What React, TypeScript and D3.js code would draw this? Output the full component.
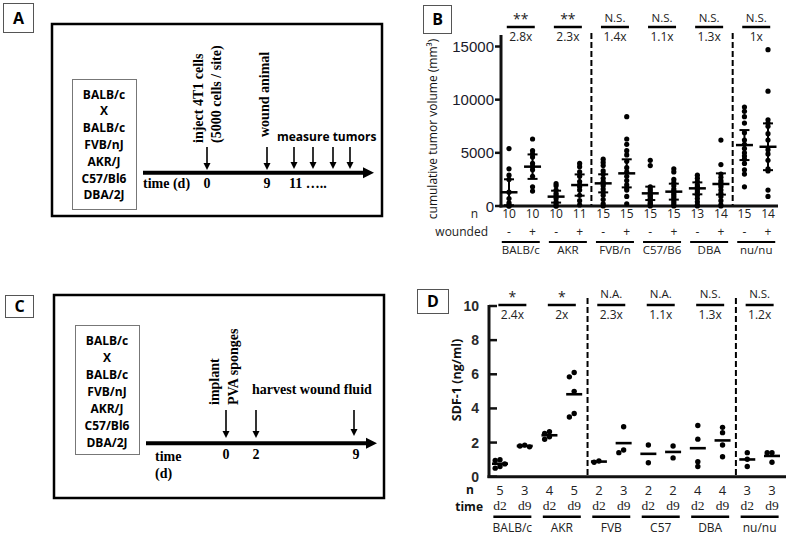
import React from 'react';
import * as d3 from 'd3';

const SANS = "'Open Sans', 'Noto Sans', sans-serif";
const SERIF = "'Liberation Serif', 'DejaVu Serif', serif";
const ARIAL = "'Liberation Sans', Arial, sans-serif";

// ---------- diagrams (A, C) ----------
const strainList = ['BALB/c', 'X', 'BALB/c', 'FVB/nJ', 'AKR/J', 'C57/Bl6', 'DBA/2J'];
const aTimeLabels = ['0', '9', '11 …..'];
const cTimeLabels = ['0', '2', '9'];

// ---------- panel B ----------
const bGroups = ['BALB/c', 'AKR', 'FVB/n', 'C57/B6', 'DBA', 'nu/nu'];
const bN = [10, 10, 10, 11, 15, 15, 15, 15, 13, 14, 15, 14];
const bWounded = ['-', '+', '-', '+', '-', '+', '-', '+', '-', '+', '-', '+'];
const bSig = ['**', '**', 'N.S.', 'N.S.', 'N.S.', 'N.S.'];
const bFold = ['2.8x', '2.3x', '1.4x', '1.1x', '1.3x', '1x'];
const bYTicks = [0, 5000, 10000, 15000];
const bValues: number[][] = [
  [5400, 3500, 2900, 2500, 1300, 700, 300, 100, 0, 0],
  [6300, 5200, 4900, 4600, 4000, 3700, 3400, 2800, 1800, 1400],
  [2100, 1900, 1500, 1200, 1000, 700, 400, 200, 0, 0],
  [4000, 3700, 3200, 2800, 2300, 2000, 1800, 1500, 1000, 500, 100],
  [4400, 4100, 3800, 3300, 3000, 2600, 2300, 2100, 1900, 1600, 1300, 1000, 600, 200, 0],
  [8400, 6300, 5800, 5200, 4800, 4200, 3600, 3200, 2800, 2400, 2000, 1700, 1500, 900, 200],
  [4300, 3800, 1800, 1600, 1400, 1200, 1000, 900, 700, 600, 500, 300, 200, 100, 0],
  [3500, 3200, 2500, 2200, 1900, 1600, 1400, 1300, 1100, 900, 700, 500, 300, 100, 0],
  [2900, 2600, 2300, 2000, 1800, 1700, 1500, 1300, 1000, 700, 400, 100, 0],
  [6200, 3900, 3000, 2700, 2400, 2200, 2000, 1800, 1500, 1200, 900, 500, 100, 0],
  [9300, 8900, 8400, 7800, 6900, 6200, 5800, 5400, 5000, 4700, 4400, 4000, 3400, 3000, 1800],
  [14700, 10800, 8100, 7800, 7500, 6800, 6200, 5300, 4900, 4300, 3500, 3300, 1500, 900],
];
const bMeans = [1290, 3700, 880, 1970, 2130, 3070, 1190, 1350, 1660, 2070, 5730, 5570];
const bErrors = [1220, 1150, 560, 1000, 850, 1320, 630, 750, 560, 1000, 1410, 2200];

// ---------- panel D ----------
const dGroups = ['BALB/c', 'AKR', 'FVB', 'C57', 'DBA', 'nu/nu'];
const dN = [5, 3, 4, 5, 2, 3, 2, 2, 4, 4, 3, 3];
const dTime = ['d2', 'd9', 'd2', 'd9', 'd2', 'd9', 'd2', 'd9', 'd2', 'd9', 'd2', 'd9'];
const dSig = ['*', '*', 'N.A.', 'N.A.', 'N.S.', 'N.S.'];
const dFold = ['2.4x', '2x', '2.3x', '1.1x', '1.3x', '1.2x'];
const dYTicks = [0, 2, 4, 6, 8, 10];
const dValues: number[][] = [
  [1.0, 0.95, 0.75, 0.6, 0.5],
  [1.85, 1.8, 1.75],
  [2.64, 2.54, 2.34, 2.19],
  [6.1, 5.85, 5.0, 3.7, 3.5],
  [0.92, 0.85],
  [2.93, 1.56, 1.41],
  [1.86, 0.82],
  [1.8, 1.1],
  [3.0, 2.2, 0.88, 0.6],
  [2.89, 2.58, 1.86, 1.17],
  [1.41, 1.02, 0.6],
  [1.4, 1.4, 0.85],
];

function beeswarm(vals: number[], y: (v: number) => number, r: number, step: number) {
  const placed: { x: number; y: number }[] = [];
  const offsets = [0, -1, 1, -2, 2, -3, 3];
  vals.forEach((v) => {
    const py = y(v);
    for (const o of offsets) {
      const px = o * step;
      if (placed.every((p) => Math.hypot(p.x - px, p.y - py) >= 2 * r * 0.85)) {
        placed.push({ x: px, y: py });
        return;
      }
    }
    placed.push({ x: 0, y: py });
  });
  return placed;
}

function LetterBox({ x, y, w, h, label }: { x: number; y: number; w: number; h: number; label: string }) {
  return (
    <g>
      <rect x={x + 0.5} y={y + 0.5} width={w} height={h} fill="#fff" stroke="#555" strokeWidth={1} />
      <text x={x + w / 2 + 0.5} y={y + h / 2 + 6} textAnchor="middle" fontFamily={SANS} fontWeight="bold" fontSize={16}>
        {label}
      </text>
    </g>
  );
}

function DownArrow({ x, y1, y2 }: { x: number; y1: number; y2: number }) {
  return (
    <g>
      <line x1={x} x2={x} y1={y1} y2={y2 - 5} stroke="#000" strokeWidth={1.6} />
      <path d={`M${x - 3.5},${y2 - 7} L${x + 3.5},${y2 - 7} L${x},${y2} Z`} fill="#000" />
    </g>
  );
}

function TimeArrow({ x1, x2, y }: { x1: number; x2: number; y: number }) {
  return (
    <g>
      <line x1={x1} x2={x2 - 8} y1={y} y2={y} stroke="#000" strokeWidth={4} />
      <path d={`M${x2 - 11},${y - 5.5} L${x2},${y} L${x2 - 11},${y + 5.5} Z`} fill="#000" />
    </g>
  );
}

function StrainBox({ x, y, w, h, y0, step }: { x: number; y: number; w: number; h: number; y0: number; step: number }) {
  return (
    <g>
      <rect x={x + 0.5} y={y + 0.5} width={w} height={h} fill="none" stroke="#777" strokeWidth={1} />
      {strainList.map((s, i) => (
        <text key={i} x={x + w / 2} y={y0 + i * step + 4.5} textAnchor="middle" fontFamily={SANS} fontWeight="bold" fontSize={12}>
          {s}
        </text>
      ))}
    </g>
  );
}

function PanelA() {
  const tx = [207, 267, 289];
  return (
    <g>
      <LetterBox x={3} y={3} w={30} h={29} label="A" />
      <rect x={52} y={24} width={330} height={192} fill="none" stroke="#000" strokeWidth={2.5} />
      <StrainBox x={72} y={79} w={64} h={130} y0={94} step={16.8} />
      <TimeArrow x1={143} x2={374} y={172.7} />
      <text x={143} y={188} fontFamily={SERIF} fontWeight="bold" fontSize={14}>time (d)</text>
      {aTimeLabels.map((t, i) => (
        <text key={i} x={tx[i]} y={188} textAnchor={i < 2 ? 'middle' : 'start'} fontFamily={SERIF} fontWeight="bold" fontSize={14}>
          {t}
        </text>
      ))}
      <DownArrow x={207} y1={147} y2={170} />
      <DownArrow x={267} y1={147} y2={170} />
      {[294, 313, 333, 350].map((x) => (
        <DownArrow key={x} x={x} y1={147} y2={169} />
      ))}
      <text transform="translate(203,143) rotate(-90)" fontFamily={SERIF} fontWeight="bold" fontSize={14}>inject 4T1 cells</text>
      <text transform="translate(221,143) rotate(-90)" fontFamily={SERIF} fontWeight="bold" fontSize={14}>(5000 cells / site)</text>
      <text transform="translate(269,137) rotate(-90)" fontFamily={SERIF} fontWeight="bold" fontSize={14}>wound animal</text>
      <text x={277} y={141} fontFamily={SANS} fontWeight="bold" fontSize={12}>measure tumors</text>
    </g>
  );
}

function PanelC() {
  const tx = [226, 256, 356];
  return (
    <g>
      <LetterBox x={5} y={295} w={28} h={22} label="C" />
      <rect x={54} y={295} width={330} height={203} fill="none" stroke="#000" strokeWidth={2.5} />
      <StrainBox x={75} y={325} w={64} h={129} y0={340} step={17} />
      <TimeArrow x1={146} x2={377} y={443.3} />
      <text x={155} y={461} fontFamily={SERIF} fontWeight="bold" fontSize={14}>time</text>
      <text x={155} y={478} fontFamily={SERIF} fontWeight="bold" fontSize={14}>(d)</text>
      {cTimeLabels.map((t, i) => (
        <text key={i} x={tx[i]} y={459} textAnchor="middle" fontFamily={SERIF} fontWeight="bold" fontSize={14}>
          {t}
        </text>
      ))}
      <DownArrow x={226} y1={410} y2={438} />
      <DownArrow x={256} y1={410} y2={438} />
      <DownArrow x={354} y1={410} y2={436} />
      <text transform="translate(219,405) rotate(-90)" fontFamily={SERIF} fontWeight="bold" fontSize={14}>implant</text>
      <text transform="translate(238,405) rotate(-90)" fontFamily={SERIF} fontWeight="bold" fontSize={14}>PVA sponges</text>
      <text x={252} y={394} fontFamily={SERIF} fontWeight="bold" fontSize={14}>harvest wound fluid</text>
    </g>
  );
}

function PanelB() {
  const cols = d3.range(bN.length);
  const x = d3.scalePoint<number>().domain(cols).range([509, 768]);
  const y = d3.scaleLinear().domain([0, 15000]).range([206, 46.5]);
  const pairC = (g: number) => ((x(2 * g) as number) + (x(2 * g + 1) as number)) / 2;
  const divs = [3.5, 9.5].map((k) => ((x(Math.floor(k)) as number) + (x(Math.ceil(k)) as number)) / 2);
  return (
    <g>
      <LetterBox x={423} y={5} w={28} h={28} label="B" />
      {bGroups.map((g, i) => {
        const c = pairC(i);
        const star = bSig[i].includes('*');
        return (
          <g key={g}>
            <text x={c} y={star ? 24 : 22} textAnchor="middle" fontFamily={SANS} fontSize={star ? 14 : 11.5} fill="#222">
              {bSig[i]}
            </text>
            <line x1={c - 14} x2={c + 14} y1={27} y2={27} stroke="#000" strokeWidth={2.5} />
            <text x={c} y={41} textAnchor="middle" fontFamily={SANS} fontSize={12} fill="#222">
              {bFold[i]}
            </text>
          </g>
        );
      })}
      {divs.map((dx, i) => (
        <line key={i} x1={dx} x2={dx} y1={33} y2={206} stroke="#000" strokeWidth={2} strokeDasharray="6,3" />
      ))}
      <line x1={501} x2={501} y1={35} y2={207.5} stroke="#111" strokeWidth={3} />
      <line x1={499.5} x2={778} y1={206} y2={206} stroke="#111" strokeWidth={3} />
      {bYTicks.map((t) => (
        <g key={t}>
          <line x1={495} x2={501} y1={y(t)} y2={y(t)} stroke="#111" strokeWidth={2.5} />
          <text x={494} y={y(t) + 5.5} textAnchor="end" fontFamily={ARIAL} fontSize={15} fill="#1a1a2a">
            {t}
          </text>
        </g>
      ))}
      <text transform="translate(437,129) rotate(-90)" textAnchor="middle" fontFamily={SANS} fontSize={12} fill="#111">
        cumulative tumor volume (mm³)
      </text>
      {cols.map((c) => {
        const cx = x(c) as number;
        const m = bMeans[c];
        const e = bErrors[c];
        return (
          <g key={c}>
            {bValues[c].map((v, j) => (
              <circle key={j} cx={cx} cy={y(v)} r={2.6} fill="#000" />
            ))}
            <line x1={cx} x2={cx} y1={y(m - e)} y2={y(m + e)} stroke="#000" strokeWidth={2} />
            <line x1={cx - 5} x2={cx + 5} y1={y(m - e)} y2={y(m - e)} stroke="#000" strokeWidth={2} />
            <line x1={cx - 5} x2={cx + 5} y1={y(m + e)} y2={y(m + e)} stroke="#000" strokeWidth={2} />
            <line x1={cx - 8.5} x2={cx + 8.5} y1={y(m)} y2={y(m)} stroke="#000" strokeWidth={2.5} />
          </g>
        );
      })}
      <text x={478} y={218} textAnchor="end" fontFamily={SANS} fontSize={12} fill="#222">n</text>
      <text x={488} y={236} textAnchor="end" fontFamily={SANS} fontSize={12} fill="#222">wounded</text>
      {cols.map((c) => (
        <g key={c}>
          <text x={x(c)} y={218} textAnchor="middle" fontFamily={SANS} fontSize={12} fill="#222">{bN[c]}</text>
          <text x={x(c)} y={236} textAnchor="middle" fontFamily={SANS} fontSize={12} fill="#222">{bWounded[c]}</text>
        </g>
      ))}
      {bGroups.map((g, i) => {
        const c = pairC(i);
        return (
          <g key={g}>
            <line x1={c - 19} x2={c + 19} y1={242} y2={242} stroke="#000" strokeWidth={2} />
            <text x={c} y={254} textAnchor="middle" fontFamily={SANS} fontSize={11.5} fill="#222">{g}</text>
          </g>
        );
      })}
    </g>
  );
}

function PanelD() {
  const cols = d3.range(dN.length);
  const x = d3.scalePoint<number>().domain(cols).range([500, 772]);
  const y = d3.scaleLinear().domain([0, 10]).range([476.7, 306]);
  const pairC = (g: number) => ((x(2 * g) as number) + (x(2 * g + 1) as number)) / 2;
  const divs = [3.5, 9.5].map((k) => ((x(Math.floor(k)) as number) + (x(Math.ceil(k)) as number)) / 2 + 1);
  return (
    <g>
      <LetterBox x={417} y={289} w={31} h={24} label="D" />
      {dGroups.map((g, i) => {
        const c = pairC(i);
        const star = dSig[i].includes('*');
        return (
          <g key={g}>
            <text x={c} y={star ? 302 : 298} textAnchor="middle" fontFamily={SANS} fontSize={star ? 14 : 11.5} fill="#222">
              {dSig[i]}
            </text>
            <line x1={c - 14} x2={c + 14} y1={305} y2={305} stroke="#000" strokeWidth={2.5} />
            <text x={c} y={319} textAnchor="middle" fontFamily={SANS} fontSize={12} fill="#222">
              {dFold[i]}
            </text>
          </g>
        );
      })}
      {divs.map((dx, i) => (
        <line key={i} x1={dx} x2={dx} y1={298} y2={477} stroke="#000" strokeWidth={2} strokeDasharray="6,3" />
      ))}
      <line x1={489} x2={489} y1={305} y2={478} stroke="#111" strokeWidth={3} />
      <line x1={487.5} x2={786} y1={476.7} y2={476.7} stroke="#111" strokeWidth={3} />
      {dYTicks.map((t) => (
        <g key={t}>
          <line x1={489} x2={497} y1={y(t)} y2={y(t)} stroke="#111" strokeWidth={2.5} />
          <text x={479} y={y(t) + 5} textAnchor="end" fontFamily={ARIAL} fontWeight="bold" fontSize={14} fill="#2a2a2a">
            {t}
          </text>
        </g>
      ))}
      <text transform="translate(461,380) rotate(-90)" textAnchor="middle" fontFamily={SANS} fontWeight="bold" fontSize={12.5} fill="#111">
        SDF-1 (ng/ml)
      </text>
      {cols.map((c) => {
        const cx = x(c) as number;
        const m = d3.mean(dValues[c]) as number;
        const pts = beeswarm(dValues[c], (v) => y(v), 2.7, 4.8);
        return (
          <g key={c}>
            {pts.map((p, j) => (
              <circle key={j} cx={cx + p.x} cy={p.y} r={2.7} fill="#000" />
            ))}
            <line x1={cx - 8} x2={cx + 8} y1={y(m)} y2={y(m)} stroke="#000" strokeWidth={2.6} />
          </g>
        );
      })}
      <text x={474} y={493.5} textAnchor="end" fontFamily={SANS} fontWeight="bold" fontSize={12} fill="#111">n</text>
      <text x={483} y={510.5} textAnchor="end" fontFamily={SANS} fontWeight="bold" fontSize={12} fill="#111">time</text>
      {cols.map((c) => (
        <g key={c}>
          <text x={x(c)} y={494.5} textAnchor="middle" fontFamily={SANS} fontSize={13} fill="#222">{dN[c]}</text>
          <text x={x(c)} y={510} textAnchor="middle" fontFamily={SERIF} fontSize={13.5} fill="#222">{dTime[c]}</text>
        </g>
      ))}
      {dGroups.map((g, i) => {
        const c = pairC(i);
        return (
          <g key={g}>
            <line x1={c - 19} x2={c + 19} y1={516.7} y2={516.7} stroke="#000" strokeWidth={2.5} />
            <text x={c} y={532} textAnchor="middle" fontFamily={SANS} fontSize={12} fill="#222">{g}</text>
          </g>
        );
      })}
    </g>
  );
}

export default function App() {
  return (
    <svg
      width={790}
      height={535}
      viewBox="0 0 790 535"
      style={{ position: 'absolute', left: 0, top: 0, background: '#fff' }}
    >
      <rect x={0} y={0} width={790} height={535} fill="#fff" />
      <PanelA />
      <PanelB />
      <PanelC />
      <PanelD />
    </svg>
  );
}
